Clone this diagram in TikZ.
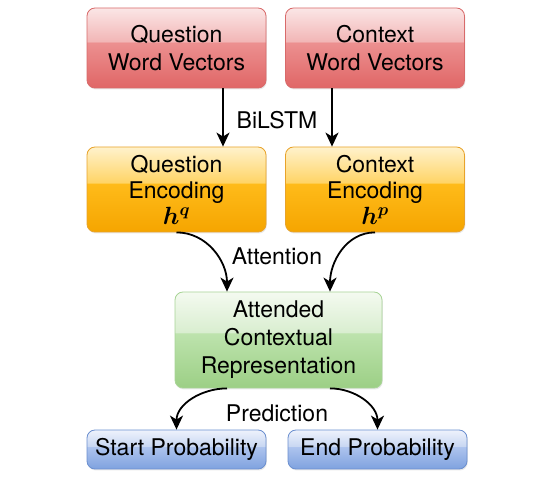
\documentclass[tikz,border=0pt]{standalone}
\usepackage{fontspec}
\setmainfont{TeX Gyre Heros}
\usepackage{bm}
\usetikzlibrary{arrows.meta,shadows}

\definecolor{rA}{HTML}{E06666}\definecolor{rB}{HTML}{EC9090}\definecolor{rC}{HTML}{F2B6B6}\definecolor{rD}{HTML}{FBE6E6}\definecolor{rE}{HTML}{D86A6A}
\definecolor{oA}{HTML}{F5A500}\definecolor{oB}{HTML}{FFBB1A}\definecolor{oC}{HTML}{FFD466}\definecolor{oD}{HTML}{FFF2CC}\definecolor{oE}{HTML}{E8A32A}
\definecolor{gA}{HTML}{9CCF85}\definecolor{gB}{HTML}{BDE3AD}\definecolor{gC}{HTML}{D9EED0}\definecolor{gD}{HTML}{F4FAF0}\definecolor{gE}{HTML}{A8D496}
\definecolor{bA}{HTML}{7FA2DF}\definecolor{bB}{HTML}{AEC4EE}\definecolor{bC}{HTML}{C8D7F2}\definecolor{bD}{HTML}{EEF2FC}\definecolor{bE}{HTML}{6B8FCF}

\pgfdeclareverticalshading{redgloss}{100bp}{color(0bp)=(rA); color(25bp)=(rA); color(53.5bp)=(rB); color(54bp)=(rC); color(75bp)=(rD); color(100bp)=(rD)}
\pgfdeclareverticalshading{orangegloss}{100bp}{color(0bp)=(oA); color(25bp)=(oA); color(53.5bp)=(oB); color(54bp)=(oC); color(75bp)=(oD); color(100bp)=(oD)}
\pgfdeclareverticalshading{greengloss}{100bp}{color(0bp)=(gA); color(25bp)=(gA); color(53.5bp)=(gB); color(54bp)=(gC); color(75bp)=(gD); color(100bp)=(gD)}
\pgfdeclareverticalshading{bluegloss}{100bp}{color(0bp)=(bA); color(25bp)=(bA); color(53.5bp)=(bB); color(54bp)=(bC); color(75bp)=(bD); color(100bp)=(bD)}

\tikzset{
  box/.style={rectangle, rounded corners=8pt, inner sep=0pt, align=center,
    line width=0.8pt, font=\fontsize{23}{28}\selectfont,
    drop shadow={opacity=0.18, shadow xshift=0.8pt, shadow yshift=-1.5pt}},
  redbox/.style={box, shading=redgloss, draw=rE, minimum width=179pt, minimum height=80pt},
  orangebox/.style={box, shading=orangegloss, draw=oE, minimum width=179pt, minimum height=85pt, font=\fontsize{23}{26}\selectfont},
  greenbox/.style={box, shading=greengloss, draw=gE, minimum width=207pt, minimum height=96pt},
  bluebox/.style={box, shading=bluegloss, draw=bE, minimum width=179pt, minimum height=39pt},
  arr/.style={-{Stealth[length=14pt,width=13pt,inset=4pt]}, line width=1.8pt, black},
  lbl/.style={font=\fontsize{23}{28}\selectfont, inner sep=1pt}
}

\begin{document}
\begin{tikzpicture}[x=1pt,y=-1pt]
\useasboundingbox (0,0) rectangle (544,502);

\node[redbox] (qw) at (176.5,48) {Question\\Word Vectors};
\node[redbox] (cw) at (375,48) {Context\\Word Vectors};
\node[orangebox] (qe) at (176.5,189.5) {Question\\Encoding\\$\bm{h}^{\bm{q}}$};
\node[orangebox] (ce) at (375,189.5) {Context\\Encoding\\$\bm{h}^{\bm{p}}$};
\node[greenbox] (ac) at (278.5,340) {Attended\\Contextual\\Representation};
\node[bluebox] (sp) at (176.5,449.5) {Start Probability};
\node[bluebox] (ep) at (377.5,449.5) {End Probability};

\coordinate (xq) at (223,0);
\coordinate (xc) at (332,0);
\coordinate (aq) at (227,0);
\coordinate (acx) at (330,0);

\draw[arr] (qw.south -| xq) -- (qe.north -| xq);
\draw[arr] (cw.south -| xc) -- (ce.north -| xc);
\node[lbl] (bil) at (277,120) {BiLSTM};

\draw[arr] (qe.south) to[out=0,in=90] (ac.north -| aq);
\draw[arr] (ce.south) to[out=180,in=90] (ac.north -| acx);
\node[lbl] (att) at (277,256) {Attention};

\draw[arr] (ac.south -| aq) to[out=180,in=90] (sp.north);
\draw[arr] (ac.south -| acx) to[out=0,in=90] (ep.north);
\node[lbl] (pre) at (277,413) {Prediction};
\end{tikzpicture}
\end{document}
